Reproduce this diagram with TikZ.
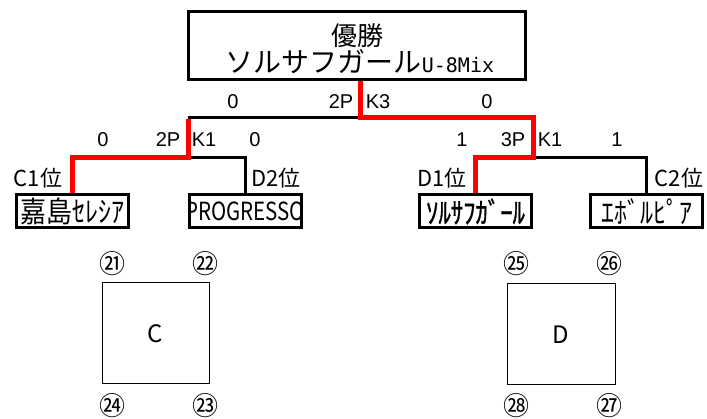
\documentclass[tikz,border=0pt]{standalone}
\usepackage{fontspec}
\setmainfont{Noto Sans CJK JP}
\newfontfamily\arialf{Liberation Sans}
\newfontfamily\monof{DejaVu Sans Mono}
\newfontfamily\fakebf[FakeBold=1.2]{Noto Sans CJK JP}
\begin{document}
\begin{tikzpicture}[x=1pt,y=-1pt,
  teambox/.style={draw, line width=3pt, minimum width=112pt, minimum height=33pt, inner sep=0pt, font=\fontsize{26}{26}\selectfont},
  topbox/.style={draw, line width=3pt, minimum width=337pt, minimum height=68pt, inner sep=0pt},
  score/.style={font=\arialf\fontsize{20}{20}\selectfont, inner sep=0pt},
  rank/.style={font=\fontsize{22}{22}\selectfont, inner sep=0pt},
  toptext/.style={font=\fontsize{28}{28}\selectfont, inner sep=0pt},
  lose/.style={draw=black, line width=3pt},
  win/.style={draw=red, line width=5pt},
  blockbox/.style={draw, line width=1pt, inner sep=0pt, font=\fontsize{24}{24}\selectfont},
  circnum/.style={font=\fontsize{26}{26}\selectfont, inner sep=0pt}
]
\useasboundingbox (0,0) rectangle (707,419);

% champion box
\node[topbox] (top) at (357,45.5) {};
\node[toptext, font=\fontsize{26}{26}\selectfont] (title) at (357,36) {優勝};
\node[toptext] (champ) at (360,62) {ソルサフガール{\monof\fontsize{20}{20}\selectfont U-8Mix}};

% team boxes
\node[teambox] (t1) at (72.5,211.5) {\scalebox{1}[1.12]{嘉島ｾﾚｼｱ}};
\node[teambox, path picture={\node[font=\fontsize{25}{25}\selectfont, inner sep=0pt] at (path picture bounding box.center) {\scalebox{0.82}[1]{PROGRESSO}};}] (t2) at (245,211.5) {};
\node[teambox] (t3) at (475.5,211.5) {\fakebf\scalebox{0.95}[1.12]{ｿﾙｻﾌｶﾞｰﾙ}};
\node[teambox] (t4) at (646.5,211.5) {\scalebox{1}[1.12]{ｴﾎﾞﾙﾋﾟｱ}};

% junctions
\coordinate (jf) at (360,118);
\coordinate (jl) at (188,158);
\coordinate (jr) at (533,158);

% losing lines
\draw[lose] (jl |- jf) -- (jf);
\draw[lose] (jl) -| (t2.north);
\draw[lose] (jr) -| (t4.north);

% winning lines
\draw[win] (t1.north) |- (jl) -- ([yshift=-1.5pt]jl |- jf);
\draw[win] (t3.north) |- (jr) |- (jf) -- (jf |- top.south);

% scores
\node[score] (s1) at (233,102) {0};
\node[score] (s2) at (341,102) {2P};
\node[score] (s3) at (378,102) {K3};
\node[score] (s4) at (487,102) {0};
\node[score] (s5) at (103,140) {0};
\node[score] (s6) at (168,140) {2P};
\node[score] (s7) at (204,140) {K1};
\node[score] (s8) at (255,140) {0};
\node[score] (s9) at (462,140) {1};
\node[score] (s10) at (513,140) {3P};
\node[score] (s11) at (550,140) {K1};
\node[score] (s12) at (617,140) {1};

% ranks
\node[rank] (r1) at (38,178) {C1位};
\node[rank] (r2) at (276,178) {D2位};
\node[rank] (r3) at (442,178) {D1位};
\node[rank] (r4) at (679,178) {C2位};

% blocks
\node[blockbox, minimum width=107pt, minimum height=101pt] (bc) at (155.5,333.5) {C};
\node[blockbox, minimum width=108pt, minimum height=101pt] (bd) at (561,334.5) {D};

\node[circnum] (c21) at (112,264) {㉑};
\node[circnum] (c22) at (205,264) {㉒};
\node[circnum] (c24) at (112,406) {㉔};
\node[circnum] (c23) at (205,406) {㉓};
\node[circnum] (c25) at (516,264) {㉕};
\node[circnum] (c26) at (609,264) {㉖};
\node[circnum] (c28) at (516,406) {㉘};
\node[circnum] (c27) at (609,406) {㉗};
\end{tikzpicture}
\end{document}
